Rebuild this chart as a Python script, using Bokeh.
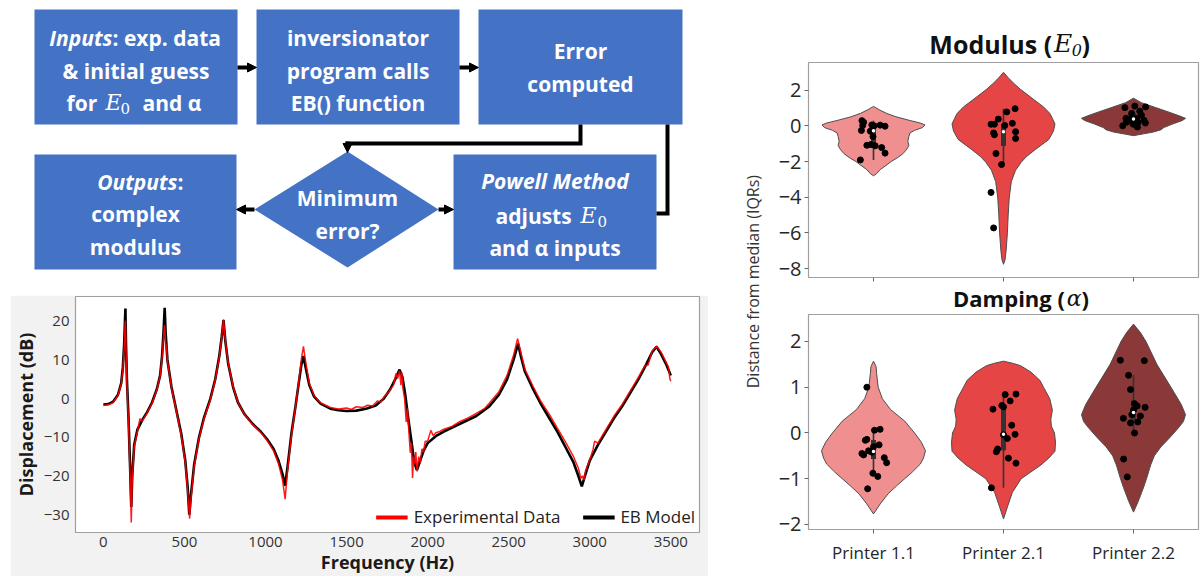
import numpy as np
from bokeh.plotting import figure
from bokeh.layouts import row, column
from bokeh.models import (Range1d, FixedTicker, CustomJSTickFormatter,
                          Legend, LegendItem, Arrow, NormalHead, Spacer)
from bokeh.core.properties import value
from bokeh.embed import file_html
from bokeh.resources import INLINE

FONT = "Open Sans"
SERIF = "DejaVu Serif"

# ---------------- frequency response data ----------------
freq_model = [0, 30, 60, 90, 110, 120, 128, 133, 136, 139, 145, 155, 165, 172, 178, 190, 210, 240, 270,
              300, 330, 350, 362, 372, 378, 384, 395, 420, 450, 480, 505, 520, 530, 540, 560, 590, 620,
              660, 690, 715, 730, 741, 752, 770, 800, 830, 870, 920, 970, 1010, 1050, 1080, 1105, 1121,
              1135, 1160, 1185, 1205, 1222, 1234, 1248, 1270, 1300, 1340, 1400, 1450, 1500, 1560, 1620,
              1680, 1730, 1770, 1800, 1827, 1845, 1862, 1880, 1900, 1918, 1934, 1950, 1975, 2000, 2050,
              2100, 2200, 2300, 2380, 2440, 2490, 2530, 2558, 2575, 2600, 2650, 2700, 2750, 2800, 2850,
              2900, 2930, 2951, 2970, 3000, 3050, 3100, 3150, 3200, 3250, 3300, 3350, 3385, 3412, 3440,
              3470, 3500]
db_model = [-1.5, -1.4, -0.8, 1, 4, 8, 14, 20, 23.3, 15, 5, -5, -18, -28, -20, -12, -8, -5.5, -3.5,
            -1, 2.5, 6, 11, 18, 23.5, 17, 10, 3, -3, -9, -16, -23, -30, -25, -17, -10, -5,
            0, 5, 11, 16, 20.3, 15, 9, 3, -1, -4, -6.5, -8.5, -10.5, -13, -16, -19.5, -22.5,
            -18, -9, -2, 4, 9, 11, 8, 3.5, 0.5, -1.3, -2.6, -3, -3.2, -3.1, -2.6,
            -1.8, 0, 2.5, 5, 7.5, 5.5, 1, -5, -11, -16.5, -18.5, -16.5, -13.5, -11.5, -9.7,
            -8.5, -6.5, -4.5, -2, 1, 5, 10, 14.2, 11, 7, 2.5, -1.5, -5, -8.5, -12.5,
            -16.5, -20, -22.7, -20, -16, -12, -8.5, -5, -2, 1.5, 5, 9, 12, 13.4, 11.5,
            9, 6]

freq_exp = [0, 30, 60, 90, 110, 120, 128, 133, 136, 139, 145, 155, 165, 172, 178, 190, 210, 225, 240,
            270, 300, 330, 350, 362, 372, 377, 381, 384, 388, 395, 420, 450, 480, 505, 520, 532, 540,
            560, 590, 620, 660, 690, 715, 730, 741, 752, 770, 800, 830, 870, 920, 970, 1010, 1050, 1080,
            1105, 1121, 1135, 1160, 1185, 1205, 1222, 1234, 1248, 1270, 1300, 1340, 1400, 1450, 1500,
            1530, 1560, 1600, 1630, 1660, 1690, 1710, 1730, 1760, 1790, 1805, 1815, 1827, 1835, 1840,
            1848, 1858, 1868, 1875, 1885, 1893, 1900, 1907, 1913, 1920, 1927, 1935, 1945, 1955, 1965,
            1975, 1985, 2000, 2020, 2035, 2050, 2075, 2100, 2150, 2200, 2250, 2300, 2350, 2380, 2440,
            2490, 2530, 2555, 2575, 2600, 2650, 2700, 2750, 2800, 2850, 2900, 2930, 2945, 2955, 2965,
            2975, 3000, 3020, 3030, 3050, 3100, 3150, 3200, 3250, 3300, 3340, 3360, 3385, 3412, 3440,
            3470, 3485, 3495, 3500]
db_exp = [-1.8, -1.6, -1.0, 0.8, 3.8, 7.5, 13, 18.5, 20.2, 14, 4, -6, -20, -32, -21, -12.5, -8.5, -5.2, -5.8,
          -3.7, -1.2, 2.3, 5.8, 10.5, 16.5, 19, 17, 13.5, 14, 9.8, 2.8, -3.2, -9.5, -16.5, -24, -31, -26,
          -17.5, -10.3, -5.3, -0.2, 4.8, 10.7, 15.8, 20.5, 15.2, 9.2, 3.2, -1.0, -4.1, -6.6, -8.7, -10.8, -13.5, -16.8,
          -21, -26, -19, -9.5, -2.2, 4.5, 10.5, 13.5, 9.5, 4, 0.8, -1.1, -2.3, -2.7, -2.4,
          -2.8, -2.1, -2.3, -1.7, -1.9, -0.6, -0.9, 0.4, 1.8, 3.5, 6.5, 5.2, 7.2, 3.5, 6.8,
          2.5, 0, -6, -2.5, -9, -14, -11.5, -20.5, -15, -17, -13.8, -18.8, -15, -16.5, -13,
          -13.8, -11, -11, -8.2, -9.6, -8.8, -8.5, -7.9, -7.2, -5.9, -5, -3.8, -2.6, -1.2, 1.8,
          6, 11.2, 15.5, 12, 7.6, 3.2, -0.8, -4, -7.6, -11.2, -15, -18, -20.6, -20, -21,
          -18.5, -15.8, -13.2, -11, -11.5, -8, -4.5, -1.5, 2, 5.5, 8.5, 8.7, 12.3, 13.6, 12,
          9.5, 8.2, 5, 4.5]

freq_ticks = [0, 500, 1000, 1500, 2000, 2500, 3000, 3500]
db_ticks = [-30, -20, -10, 0, 10, 20]

# ---------------- violin data ----------------
printers = ["Printer 1.1", "Printer 2.1", "Printer 2.2"]

mod_p11 = [0.29, 0.20, 0.02, 0.05, 0.00, 0.04, -0.02, -0.26, -0.30, -0.60, -1.09, -1.05, -1.12, -1.22, -1.53, -1.91]
mod_p21 = [0.09, 0.09, 0.38, 0.78, 0.96, 0.02, 0.14, -0.40, -0.50, -0.33, -0.71, -1.55, -2.17, -3.73, -5.72]
mod_p22 = [1.02, 1.11, 1.06, 0.82, 0.69, 0.42, 0.36, 0.42, 0.60, 0.31, 0.16, 0.20, 0.09, 0.00, -0.07, 0.20]
mod_jit_p11 = [-0.089, -0.076, -0.083, -0.013, 0.005, 0.051, 0.089, -0.093, -0.025, -0.004, -0.051, -0.020, 0.013, 0.063, 0.089, -0.101]
mod_jit_p21 = [-0.096, -0.070, -0.040, 0.025, 0.089, 0.010, 0.068, -0.076, -0.070, 0.093, 0.093, -0.058, -0.015, -0.096, -0.076]
mod_jit_p22 = [-0.066, 0.010, 0.093, 0.048, -0.015, -0.058, -0.028, 0.023, 0.061, 0.081, 0.091, -0.053, -0.002, -0.083, 0.030, 0.036]

damp_p11 = [1.00, 0.06, 0.08, -0.16, -0.14, -0.26, -0.39, -0.45, -0.48, -0.42, -0.54, -0.65, -0.88, -0.95, -1.22, -0.30]
damp_p21 = [0.85, 0.84, 0.70, 0.52, 0.60, 0.17, -0.03, -0.04, -0.12, -0.35, -0.41, -0.55, -0.66, -1.20, 0.57]
damp_p22 = [1.59, 1.58, 1.26, 0.95, 0.64, 0.59, 0.56, 0.37, 0.40, 0.32, 0.22, 0.24, 0.00, -0.57, -0.96, 0.50]
damp_jit_p11 = [-0.051, 0.008, 0.051, -0.063, -0.051, 0.043, -0.038, -0.089, -0.076, -0.013, 0.083, 0.101, -0.005, 0.033, -0.045, 0.000]
damp_jit_p21 = [0.096, 0.013, 0.051, -0.081, -0.013, 0.063, 0.089, 0.000, 0.030, -0.045, -0.055, 0.038, 0.096, -0.093, 0.000]
damp_jit_p22 = [-0.101, 0.083, -0.038, -0.023, 0.008, 0.028, 0.089, 0.053, -0.013, -0.078, -0.023, 0.033, 0.008, -0.076, -0.048, 0.000]

# violin outlines: value levels and relative density (half-width, max = 1)
mod_lvl_p11 = [1.09, 0.9, 0.7, 0.51, 0.3, 0.15, 0.05, -0.1, -0.25, -0.4, -0.6, -0.86, -1.1, -1.31, -1.55, -1.77, -2.0, -2.22, -2.45, -2.68, -2.8]
mod_den_p11 = [0, .11, .25, .43, .70, .91, .99, .94, .79, .70, .68, .66, .68, .64, .57, .47, .34, .24, .13, .06, 0]
mod_lvl_p21 = [3.0, 2.7, 2.4, 2.06, 1.5, 1.06, 0.7, 0.42, 0.1, -0.3, -0.77, -1.31, -1.7, -2.04, -2.5, -3.13, -4.04, -5, -6, -7, -7.5, -7.76]
mod_den_p21 = [0, .09, .19, .32, .57, .77, .89, .94, .99, .96, .87, .62, .45, .34, .23, .15, .11, .09, .075, .05, .03, 0]
mod_lvl_p22 = [1.55, 1.3, 1.02, 0.75, 0.55, 0.42, 0.3, 0.1, -0.1, -0.22, -0.35, -0.45, -0.55]
mod_den_p22 = [0, .15, .43, .70, .89, 1.0, .94, .75, .58, .53, .38, .19, 0]

damp_lvl_p11 = [1.57, 1.45, 1.3, 1.0, 0.75, 0.51, 0.26, 0.0, -0.2, -0.39, -0.55, -0.68, -0.85, -1.0, -1.15, -1.33, -1.55, -1.77]
damp_den_p11 = [0, .05, .06, .09, .17, .33, .60, .79, .92, 1.0, .96, .90, .75, .60, .45, .28, .13, 0]
damp_lvl_p21 = [1.57, 1.52, 1.47, 1.33, 1.15, 1.0, 0.75, 0.5, 0.3, 0.15, 0.0, -0.2, -0.4, -0.55, -0.7, -0.85, -1.0, -1.3, -1.6, -1.88]
damp_den_p21 = [0, .19, .33, .53, .70, .77, .89, .94, .91, .92, .98, 1.0, .99, .87, .72, .53, .34, .17, .08, 0]
damp_lvl_p22 = [2.38, 2.2, 2.0, 1.5, 1.0, 0.62, 0.4, 0.25, 0.12, -0.1, -0.3, -0.5, -0.7, -1.0, -1.2, -1.5, -1.73]
damp_den_p22 = [0, .13, .24, .45, .72, .92, 1.0, .96, .87, .70, .53, .40, .33, .25, .19, .09, 0]

mod_ticks = [-8, -6, -4, -2, 0, 2]
damp_ticks = [-2, -1, 0, 1, 2]

VCOL = ["#F08F8F", "#E64545", "#8A3838"]
BLUE = "#4472C4"

def bare(p):
    p.axis.visible = False
    p.grid.visible = False
    p.outline_line_color = None
    return p

# ---------------- flowchart ----------------
flow = bare(figure(width=708, height=295, x_range=Range1d(0, 708), y_range=Range1d(295, 0),
                   output_backend="svg", toolbar_location=None, min_border=0))

box_l = [34, 256, 478, 34, 453]
box_r = [237, 459, 682, 236, 656]
box_t = [9, 9, 9, 154, 154]
box_b = [124, 124, 124, 269, 269]
flow.quad(left=box_l, right=box_r, top=box_t, bottom=box_b, fill_color=BLUE, line_color=None)
flow.patch([254, 347, 438, 347], [209, 151, 209, 267], fill_color=BLUE, line_color=None)
flow.multi_line(xs=[[580, 580, 347, 347], [667, 667, 656]], ys=[[124, 143, 143, 146], [124, 213, 213]],
                line_width=4, line_color="black", line_join="miter")
for (x0, y0, x1, y1) in [(237, 67, 256, 67), (459, 67, 478, 67), (347, 141, 347, 152),
                         (254, 209, 236, 209), (438, 209, 453, 209)]:
    flow.add_layout(Arrow(x_start=x0, y_start=y0, x_end=x1, y_end=y1, line_width=4, line_color="black",
                          end=NormalHead(size=9, fill_color="black", line_color="black", line_width=1)))

FS = "21px"
def ftext(items, align, style, font=FONT, size=FS):
    flow.text(x=[i[1] for i in items], y=[i[2] for i in items], text=[i[0] for i in items],
              text_align=align, text_baseline="middle", text_font=value(font), text_font_style=style,
              text_font_size=size, text_color="white")

ftext([("& initial guess", 135.5, 70), ("inversionator", 357.5, 37), ("program calls", 357.5, 70),
       ("EB() function", 357.5, 102), ("Error", 580, 50), ("computed", 580, 83),
       ("complex", 135, 213), ("modulus", 135, 246), ("Minimum", 347, 197), ("error?", 347, 230),
       ("and α inputs", 554.5, 247)], "center", "bold")
ftext([("Powell Method", 554.5, 180)], "center", "bold italic")
ftext([("Inputs", 112, 37), ("Outputs", 177, 181)], "right", "bold italic")
ftext([(": exp. data", 112, 37), (":", 177, 181), ("for", 66, 102), ("and α", 142, 102),
       ("adjusts", 495, 215)], "left", "bold")
ftext([("E", 105, 102), ("E", 580, 215)], "left", "italic", font=SERIF, size="22px")
ftext([("0", 120, 108), ("0", 597, 221)], "left", "normal", font=SERIF, size="15px")

# ---------------- frequency response ----------------
lf = figure(width=698, height=281, x_range=Range1d(-172, 3677), y_range=Range1d(-34.6, 26.4),
            output_backend="svg", toolbar_location=None,
            min_border_left=62, min_border_right=9, min_border_top=1, min_border_bottom=43,
            border_fill_color="#F2F2F2", background_fill_color="white")
lf.grid.visible = False
lf.outline_line_color = "#A0A0A0"
lf.outline_line_width = 1.2
r_model = lf.line(freq_model, db_model, line_color="black", line_width=2.6)
r_exp = lf.line(freq_exp, db_exp, line_color="#FF0000", line_width=1.5, line_alpha=0.9)
# legend swatches (thicker, as in the original legend); they hold no data points
k_exp = lf.line([np.nan], [np.nan], line_color="#FF0000", line_width=4)
k_model = lf.line([np.nan], [np.nan], line_color="black", line_width=4)
lf.xaxis.ticker = FixedTicker(ticks=freq_ticks)
lf.yaxis.ticker = FixedTicker(ticks=db_ticks)
lf.yaxis.formatter = CustomJSTickFormatter(code="return tick < 0 ? '\u2212' + Math.abs(tick) : String(tick);")
for ax in (lf.xaxis[0], lf.yaxis[0]):
    ax.major_tick_out = 0
    ax.major_tick_in = 0
    ax.minor_tick_out = 0
    ax.minor_tick_in = 0
    ax.axis_line_color = None
    ax.major_label_text_font = FONT
    ax.major_label_text_font_size = "15px"
    ax.major_label_text_color = "#333333"
    ax.axis_label_text_font = FONT
    ax.axis_label_text_font_style = "bold"
    ax.axis_label_text_font_size = "18px"
    ax.axis_label_text_color = "#1A1A1A"
lf.yaxis.major_label_standoff = 6
lf.yaxis.axis_label_standoff = 3
lf.xaxis.major_label_standoff = 4
lf.xaxis.axis_label_standoff = 0
lf.xaxis.axis_label = "Frequency (Hz)"
lf.yaxis.axis_label = "Displacement (dB)"
leg = Legend(items=[LegendItem(label="Experimental Data", renderers=[k_exp]),
                    LegendItem(label="EB Model", renderers=[k_model])],
             orientation="horizontal", location="bottom_right", border_line_color=None,
             background_fill_alpha=0.0, label_text_font=FONT, label_text_font_size="17px",
             label_text_color="#222222", glyph_width=32, spacing=22, margin=4, padding=4,
             label_standoff=6)
lf.add_layout(leg)

# ---------------- shared y label panel ----------------
lab = bare(figure(width=67, height=576, x_range=Range1d(0, 1), y_range=Range1d(0, 1),
                  output_backend="svg", toolbar_location=None, min_border=0))
lab.text(x=[0.67], y=[0.512], text=["Distance from median (IQRs)"], angle=np.pi / 2,
         text_align="center", text_baseline="middle", text_font=value(FONT),
         text_font_size="16px", text_color="#333333")

# ---------------- violins ----------------
VL, VR = 26, 2   # left / right borders of every figure in the right column

def title_fig(h, y0, y1, parts):
    t = bare(figure(width=425, height=h, x_range=Range1d(801, 1198), y_range=Range1d(y1, y0),
                    output_backend="svg", toolbar_location=None, min_border_left=VL,
                    min_border_right=VR, min_border_top=0, min_border_bottom=0))
    for (txt, x, y, align, font, style, size) in parts:
        t.text(x=[x], y=[y], text=[txt], text_align=align, text_baseline="middle",
               text_font=value(font), text_font_style=style, text_font_size=size, text_color="#111111")
    return t

def violin_fig(h, yr, ticks, mtop, mbot, labels):
    p = figure(width=425, height=h, x_range=Range1d(0, 3), y_range=Range1d(*yr),
               output_backend="svg", toolbar_location=None, min_border_left=VL, min_border_right=VR,
               min_border_top=mtop, min_border_bottom=mbot)
    p.grid.visible = False
    p.outline_line_color = "#A0A0A0"
    p.outline_line_width = 1.2
    centers = [i + 0.5 for i in range(len(printers))]
    p.xaxis.ticker = FixedTicker(ticks=centers)
    p.xaxis.major_label_overrides = {c: (pr if labels else "") for c, pr in zip(centers, printers)}
    p.yaxis.ticker = FixedTicker(ticks=ticks)
    for ax in (p.xaxis[0], p.yaxis[0]):
        ax.axis_line_color = None
        ax.major_tick_out = 4
        ax.major_tick_in = 0
        ax.major_tick_line_color = "#666666"
        ax.minor_tick_out = 0
        ax.minor_tick_in = 0
        ax.major_label_text_font = FONT
        ax.major_label_text_color = "#262626"
    p.yaxis.major_label_text_font_size = "20px"
    p.yaxis.major_label_standoff = 3
    p.xaxis.major_label_text_font_size = "17px" if labels else "0px"
    p.xaxis.major_label_standoff = 7 if labels else 0
    return p

def draw_violins(p, levels, dens, pts, jits):
    for i in range(3):
        c = i + 0.5
        lv, dn = levels[i], dens[i]
        xs = [c + 0.4 * d for d in dn] + [c - 0.4 * d for d in reversed(dn)]
        ys = list(lv) + list(reversed(lv))
        p.patch(xs, ys, fill_color=VCOL[i], line_color="#4D4D4D", line_width=1)
        v = np.array(pts[i])
        q1, med, q3 = np.percentile(v, [25, 50, 75])
        iqr = q3 - q1
        lo = v[v >= q1 - 1.5 * iqr].min()
        hi = v[v <= q3 + 1.5 * iqr].max()
        p.segment(x0=[c], y0=[lo], x1=[c], y1=[hi], line_color="#333333", line_width=1.6)
        p.segment(x0=[c], y0=[q1], x1=[c], y1=[q3], line_color="#333333", line_width=5)
        p.scatter([c + j for j in jits[i]], list(v), size=6, fill_color="black", line_color="black")
        p.scatter([c], [med], size=3.5, fill_color="white", line_color=None)

t1 = title_fig(61, 0, 61, [("Modulus (", 1049, 43, "right", FONT, "bold", "25px"),
                           ("E", 1051, 43, "left", SERIF, "italic", "25px"),
                           ("0", 1069, 49, "left", SERIF, "italic", "16px"),
                           (")", 1079, 43, "left", FONT, "bold", "25px")])
vt = violin_fig(221, (-8.5, 3.55), mod_ticks, 1, 5, False)
draw_violins(vt, [mod_lvl_p11, mod_lvl_p21, mod_lvl_p22], [mod_den_p11, mod_den_p21, mod_den_p22],
             [mod_p11, mod_p21, mod_p22], [mod_jit_p11, mod_jit_p21, mod_jit_p22])
t2 = title_fig(31, 282, 313, [("Damping (", 1062, 297.5, "right", FONT, "bold", "22px"),
                              ("α", 1064, 297.5, "left", SERIF, "italic", "22px"),
                              (")", 1079, 297.5, "left", FONT, "bold", "22px")])
vb = violin_fig(263, (-2.11, 2.59), damp_ticks, 1, 47, True)
draw_violins(vb, [damp_lvl_p11, damp_lvl_p21, damp_lvl_p22], [damp_den_p11, damp_den_p21, damp_den_p22],
             [damp_p11, damp_p21, damp_p22], [damp_jit_p11, damp_jit_p21, damp_jit_p22])

layout = row(column(row(flow), row(Spacer(width=10, height=281), lf)), lab, column(t1, vt, t2, vb))
open("out.html", "w").write(file_html(layout, INLINE))
